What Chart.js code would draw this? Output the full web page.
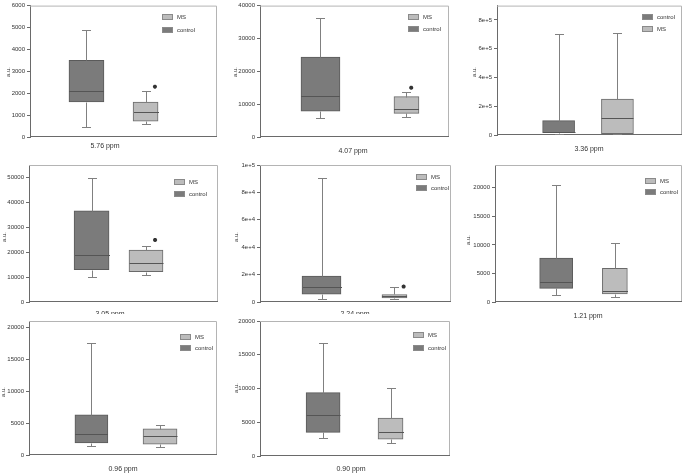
<!DOCTYPE html>
<html>
<head>
<meta charset="utf-8">
<script src="https://cdn.jsdelivr.net/npm/chart.js@4.4.1/dist/chart.umd.min.js"></script>
<style>
  html, body { margin: 0; padding: 0; background: #fff; }
  #fig { position: relative; width: 684px; height: 474px; overflow: hidden; background: #fff; }
  #fig canvas { position: absolute; background: #fff; }
</style>
</head>
<body>
<div id="fig"></div>
<script>
// ── Data ────────────────────────────────────────────────────────────────────
const titles = ["5.76 ppm", "4.07 ppm", "3.36 ppm", "3.05 ppm", "2.24 ppm", "1.21 ppm", "0.96 ppm", "0.90 ppm"];
// [min, q1, median, q3, max]
const controlStats = [
  [450, 1600, 2080, 3500, 4900],
  [5900, 7900, 12400, 24300, 36200],
  [9000, 16000, 22000, 100000, 700000],
  [10000, 13000, 18700, 36600, 49700],
  [2000, 5800, 11000, 19000, 90500],
  [1200, 2400, 3500, 7700, 20500],
  [1400, 1900, 3300, 6300, 17500],
  [2700, 3500, 6100, 9400, 16800]
];
const msStats = [
  [600, 720, 1150, 1600, 2100],
  [6200, 7200, 8500, 12300, 13700],
  [9000, 10000, 118000, 250000, 712000],
  [10800, 12200, 15500, 20800, 22400],
  [2000, 3000, 4200, 5500, 11200],
  [900, 1400, 1900, 5900, 10400],
  [1200, 1700, 2900, 4100, 4700],
  [1900, 2500, 3600, 5600, 10100]
];
const starValues = [2300, 15000, null, 24900, 11300, null, null, null];
const yMax = [6000, 40000, 900000, 55000, 100000, 24000, 21000, 20000];
const yTicks = [
  [0, 1000, 2000, 3000, 4000, 5000, 6000],
  [0, 10000, 20000, 30000, 40000],
  [0, 200000, 400000, 600000, 800000],
  [0, 10000, 20000, 30000, 40000, 50000],
  [0, 20000, 40000, 60000, 80000, 100000],
  [0, 5000, 10000, 15000, 20000],
  [0, 5000, 10000, 15000, 20000],
  [0, 5000, 10000, 15000, 20000]
];
const expTicks = [false, false, true, false, true, false, false, false];
const legendOrder = [
  ["MS", "control"], ["MS", "control"], ["control", "MS"], ["MS", "control"],
  ["MS", "control"], ["MS", "control"], ["MS", "control"], ["MS", "control"]
];

// ── Layout (pixels in the 684x474 figure) ───────────────────────────────────
// cell: [left, top, right, bottom], plot: [left, top, right, bottom]
// pos: box centres and star position in % of plot width
const panels = [
  { cell: [0, 0, 228, 158],     plot: [30, 3, 217, 137],    title: [105, 146], ylab: [8, 72],    legend: [162, 17, 30],   pos: [30.2, 61.8, 66.8], widths: [35, 25] },
  { cell: [228, 0, 456, 158],   plot: [260, 3, 449, 137],   title: [353, 151], ylab: [235, 72],  legend: [408, 17, 29],   pos: [32.0, 77.5, 80.0], widths: [39, 25] },
  { cell: [456, 0, 684, 158],   plot: [497, 3, 682, 135],   title: [589, 149], ylab: [474, 72],  legend: [642, 17, 29],   pos: [33.3, 65.1, 0],    widths: [32, 32] },
  { cell: [0, 158, 228, 314],   plot: [29, 165, 218, 302],  title: [110, 314], ylab: [4, 237],   legend: [174, 182, 194], pos: [33.1, 61.9, 66.7], widths: [35, 34] },
  { cell: [228, 158, 456, 314], plot: [260, 165, 451, 302], title: [355, 314], ylab: [236, 237], legend: [416, 177, 188], pos: [32.2, 70.4, 75.2], widths: [39, 25] },
  { cell: [456, 158, 684, 330], plot: [495, 165, 682, 302], title: [588, 316], ylab: [468, 240], legend: [645, 181, 192], pos: [32.7, 64.1, 0],    widths: [33, 25] },
  { cell: [0, 314, 228, 474],   plot: [29, 321, 217, 455],  title: [123, 469], ylab: [3, 392],   legend: [180, 337, 348], pos: [33.2, 69.7, 0],    widths: [33, 34] },
  { cell: [228, 314, 456, 474], plot: [260, 321, 450, 456], title: [351, 469], ylab: [236, 388], legend: [413, 335, 348], pos: [33.2, 68.7, 0],    widths: [34, 25] }
];

const COLORS = { control: "#7b7b7b", MS: "#bcbcbc" };
const FONT = "'Liberation Sans', Arial, sans-serif";

function fmtTick(v, exp) {
  if (!exp) return String(v);
  if (v === 0) return "0";
  const e = Math.floor(Math.log10(v));
  return (v / Math.pow(10, e)) + "e+" + e;
}

// whiskers, medians, frame, legend, labels
const boxPlotPlugin = {
  id: "boxplot",
  afterDatasetsDraw(chart, args, o) {
    const ctx = chart.ctx, ys = chart.scales.y;
    const { left, top, right, bottom } = chart.chartArea;
    ctx.save();
    ctx.lineWidth = 1;
    // light frame top/right, dark bottom axis
    ctx.strokeStyle = "#b4b4b4";
    ctx.beginPath();
    ctx.moveTo(left, top + 0.5); ctx.lineTo(right - 0.5, top + 0.5); ctx.lineTo(right - 0.5, bottom);
    ctx.stroke();
    ctx.strokeStyle = "#6a6a6a";
    ctx.beginPath();
    ctx.moveTo(left, bottom - 0.5); ctx.lineTo(right, bottom - 0.5);
    ctx.stroke();

    [o.control, o.ms].forEach((s, i) => {
      const el = chart.getDatasetMeta(i).data[0];
      if (!el) return;
      const cx = Math.round(el.x) + 0.5, hw = el.width / 2, cap = 4.5;
      const py = v => Math.round(ys.getPixelForValue(v)) + 0.5;
      ctx.strokeStyle = "#808080";
      ctx.beginPath();
      ctx.moveTo(cx, py(s[3])); ctx.lineTo(cx, py(s[4]));
      ctx.moveTo(cx - cap, py(s[4])); ctx.lineTo(cx + cap, py(s[4]));
      ctx.moveTo(cx, py(s[1])); ctx.lineTo(cx, py(s[0]));
      ctx.moveTo(cx - cap, py(s[0])); ctx.lineTo(cx + cap, py(s[0]));
      ctx.stroke();
      ctx.strokeStyle = "#555";
      ctx.beginPath();
      ctx.moveTo(cx - hw, py(s[2])); ctx.lineTo(cx + hw, py(s[2]));
      ctx.stroke();
    });

    // legend
    const [lx, ly1, ly2] = o.legend;
    ctx.font = "6px " + FONT;
    ctx.textBaseline = "middle";
    o.order.forEach((name, k) => {
      const yy = k === 0 ? ly1 : ly2;
      ctx.fillStyle = COLORS[name];
      ctx.fillRect(lx, yy - 2.5, 11, 5);
      ctx.strokeStyle = "#8a8a8a";
      ctx.strokeRect(lx + 0.5, yy - 2.5, 10, 5);
      ctx.fillStyle = "#333";
      ctx.textAlign = "left";
      ctx.fillText(name, lx + 15, yy);
    });

    // x title and y label
    ctx.fillStyle = "#333";
    ctx.font = "7px " + FONT;
    ctx.textAlign = "center";
    ctx.fillText(o.title, o.titleXY[0], o.titleXY[1]);
    ctx.font = "6px " + FONT;
    ctx.translate(o.ylabXY[0], o.ylabXY[1]);
    ctx.rotate(-Math.PI / 2);
    ctx.fillText("a.u.", 0, 0);
    ctx.restore();
  }
};

const fig = document.getElementById("fig");

panels.forEach((p, i) => {
  const [cl, ct, cr, cb] = p.cell;
  const [pl, pt, pr, pb] = p.plot;
  const canvas = document.createElement("canvas");
  canvas.width = cr - cl; canvas.height = cb - ct;
  canvas.style.left = cl + "px"; canvas.style.top = ct + "px";
  canvas.style.width = (cr - cl) + "px"; canvas.style.height = (cb - ct) + "px";
  fig.appendChild(canvas);

  const rel = ([x, y]) => [x - cl, y - ct];
  const stars = starValues[i] != null ? [{ x: p.pos[2], y: starValues[i] }] : [];

  new Chart(canvas, {
    type: "bar",
    data: {
      datasets: [
        { label: "control", data: [{ x: p.pos[0], y: [controlStats[i][1], controlStats[i][3]] }],
          backgroundColor: COLORS.control, borderColor: "#5a5a5a", borderWidth: 1, borderSkipped: false, barThickness: p.widths[0], grouped: false },
        { label: "MS", data: [{ x: p.pos[1], y: [msStats[i][1], msStats[i][3]] }],
          backgroundColor: COLORS.MS, borderColor: "#6a6a6a", borderWidth: 1, borderSkipped: false, barThickness: p.widths[1], grouped: false },
        { type: "scatter", label: "sig", data: stars, pointStyle: "star", radius: 2, borderWidth: 1.3,
          borderColor: "#333", backgroundColor: "#333" }
      ]
    },
    options: {
      responsive: false, animation: false, events: [],
      devicePixelRatio: 1,
      layout: { autoPadding: false, padding: { left: 0, top: pt - ct, right: cr - pr, bottom: cb - pb } },
      plugins: {
        legend: { display: false }, tooltip: { enabled: false },
        boxplot: {
          control: controlStats[i], ms: msStats[i], order: legendOrder[i],
          legend: [p.legend[0] - cl, p.legend[1] - ct, p.legend[2] - ct],
          title: titles[i], titleXY: rel(p.title), ylabXY: rel(p.ylab)
        }
      },
      scales: {
        x: { type: "linear", min: 0, max: 100, offset: false, display: false },
        y: {
          min: 0, max: yMax[i],
          afterFit: s => { s.width = pl - cl; },
          afterBuildTicks: s => { s.ticks = yTicks[i].map(v => ({ value: v })); },
          grid: { drawOnChartArea: false, drawTicks: true, tickLength: 3, color: "#6a6a6a" },
          border: { color: "#6a6a6a" },
          ticks: { padding: 2, color: "#333",
                   font: { size: 6, family: FONT }, callback: v => fmtTick(v, expTicks[i]) }
        }
      }
    },
    plugins: [boxPlotPlugin]
  });
});
</script>
</body>
</html>
